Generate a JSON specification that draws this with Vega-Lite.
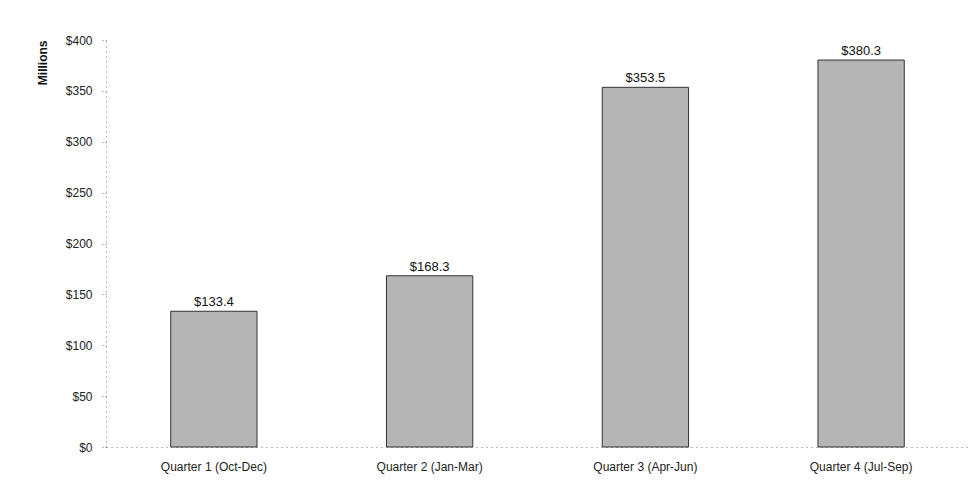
{
  "$schema": "https://vega.github.io/schema/vega-lite/v6.json",
  "width": 863,
  "height": 407,
  "autosize": {"type": "none"},
  "padding": {"left": 106, "top": 40, "right": 0, "bottom": 48},
  "background": "white",
  "data": {"values": [
    {"quarter": "Quarter 1 (Oct-Dec)", "value": 133.4, "label": "$133.4"},
    {"quarter": "Quarter 2 (Jan-Mar)", "value": 168.3, "label": "$168.3"},
    {"quarter": "Quarter 3 (Apr-Jun)", "value": 353.5, "label": "$353.5"},
    {"quarter": "Quarter 4 (Jul-Sep)", "value": 380.3, "label": "$380.3"}
  ]},
  "config": {
    "view": {"stroke": null},
    "font": "Liberation Sans"
  },
  "encoding": {
    "x": {
      "field": "quarter", "type": "nominal", "sort": null,
      "scale": {"paddingInner": 0.6, "paddingOuter": 0.3},
      "axis": {
        "title": null, "labelAngle": 0, "labelFontSize": 12, "labelColor": "#222",
        "labelPadding": 14, "ticks": false,
        "domainColor": "#777", "domainDash": [1, 4], "domainWidth": 1
      }
    },
    "y": {
      "field": "value", "type": "quantitative",
      "scale": {"domain": [0, 400]},
      "axis": {
        "title": "Millions", "titleFontSize": 12, "titleFontWeight": "bold", "titleColor": "#111",
        "titleAnchor": "end", "titlePadding": 16,
        "values": [0, 50, 100, 150, 200, 250, 300, 350, 400],
        "labelExpr": "'$' + datum.value", "labelFontSize": 12, "labelColor": "#222",
        "labelPadding": 10, "grid": false,
        "tickColor": "#777", "tickSize": 4, "tickDash": [1, 2],
        "domainColor": "#777", "domainDash": [1, 4], "domainWidth": 1
      }
    }
  },
  "layer": [
    {
      "mark": {"type": "bar", "fill": "#b5b5b5", "stroke": "#333", "strokeWidth": 1}
    },
    {
      "mark": {"type": "text", "dy": -9, "fontSize": 13, "color": "#111"},
      "encoding": {"text": {"field": "label"}}
    }
  ]
}
